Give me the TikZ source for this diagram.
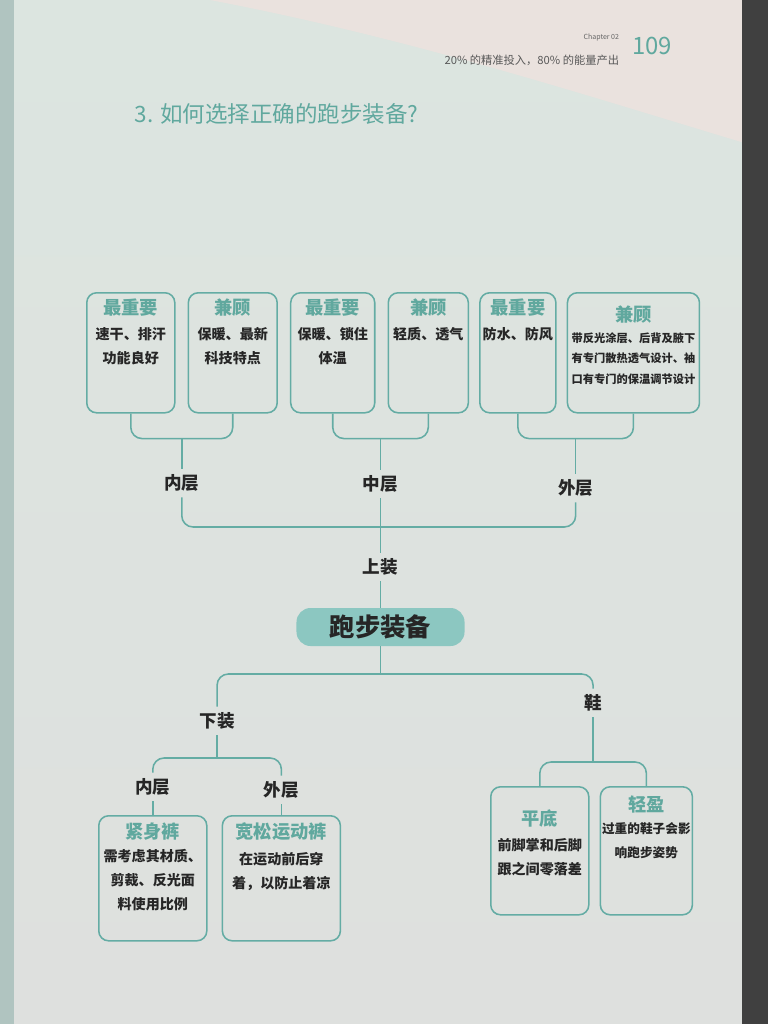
\documentclass[tikz,border=0pt]{standalone}
\usepackage{fontspec}
\setmainfont{Noto Sans CJK SC}
\usetikzlibrary{positioning,calc}
\definecolor{pagetop}{RGB}{220,229,224}
\definecolor{pagebot}{RGB}{222,224,222}
\definecolor{topband}{RGB}{234,226,222}
\definecolor{pageedge}{RGB}{176,196,192}
\definecolor{tealline}{RGB}{100,172,164}
\definecolor{tealtext}{RGB}{96,168,158}
\definecolor{mainfill}{RGB}{140,199,193}
\tikzset{
  box/.style={draw=tealline, line width=1.1pt, rounded corners=7pt, minimum height=3cm, inner sep=0pt},
  boxhead/.style={font=\fontsize{13}{15}\selectfont\bfseries, text=tealtext, inner sep=1pt},
  boxbody/.style={font=\fontsize{10}{17}\selectfont\bfseries, text=black!85, align=center, inner sep=1pt},
  layer/.style={font=\fontsize{12.5}{14}\selectfont\bfseries, text=black!85, inner sep=4pt},
  link/.style={draw=tealline, line width=1.1pt, rounded corners=8pt}
}
\begin{document}
\begin{tikzpicture}[x=0.025cm, y=-0.025cm]
  % page
  \useasboundingbox (0,0) rectangle (768,1024);
  \shade[top color=pagetop, bottom color=pagebot] (0,0) rectangle (768,1024);
  \fill[topband] (210,0) .. controls (420,40) and (600,100) .. (768,150) -- (768,0) -- cycle;
  \fill[black!75] (742,0) rectangle (768,1024);
  \fill[pageedge] (0,0) rectangle (14,1024);
  \node[anchor=east, font=\fontsize{8}{9}\selectfont, text=black!65] (run) at (624,60) {20\% 的精准投入，80\% 的能量产出};
  \node[anchor=east, font=\fontsize{5}{6}\selectfont, text=black!60] (chap) at (624,38) {Chapter 02};
  \node[font=\fontsize{17}{18}\selectfont, text=tealtext] (page) at (652,46) {109};
  \node[anchor=west, font=\fontsize{16}{18}\selectfont, text=tealtext] (title) at (130,114) {3. 如何选择正确的跑步装备?};

  % upper layer boxes
  \node[box, minimum width=2.2cm, anchor=north west] (b1) at (86,292) {};
  \node[box, minimum width=2.22cm, right=0.3cm of b1] (b2) {};
  \node[box, minimum width=2.1cm, right=0.3cm of b2] (b3) {};
  \node[box, minimum width=2.0cm, right=0.3cm of b3] (b4) {};
  \node[box, minimum width=1.9cm, right=0.25cm of b4] (b5) {};
  \node[box, minimum width=3.3cm, right=0.25cm of b5] (b6) {};
  \node[boxhead, below=0.12cm of b1.north] (b1h) {最重要};
  \node[boxbody, below=0.2cm of b1h] {速干、排汗\\功能良好};
  \node[boxhead, below=0.12cm of b2.north] (b2h) {兼顾};
  \node[boxbody, below=0.2cm of b2h] {保暖、最新\\科技特点};
  \node[boxhead, below=0.12cm of b3.north] (b3h) {最重要};
  \node[boxbody, below=0.2cm of b3h] {保暖、锁住\\体温};
  \node[boxhead, below=0.12cm of b4.north] (b4h) {兼顾};
  \node[boxbody, below=0.2cm of b4h] {轻质、透气};
  \node[boxhead, below=0.12cm of b5.north] (b5h) {最重要};
  \node[boxbody, below=0.2cm of b5h] {防水、防风};
  \node[boxhead, below=0.3cm of b6.north] (b6h) {兼顾};
  \node[boxbody, font=\fontsize{8}{14.5}\selectfont\bfseries, below=0.15cm of b6h] {带反光涂层、后背及腋下\\有专门散热透气设计、袖\\口有专门的保温调节设计};

  % layer labels
  \coordinate (j12) at ($(b1.south)!0.5!(b2.south)+(0,25)$);
  \coordinate (j34) at ($(b3.south)!0.5!(b4.south)+(0,25)$);
  \coordinate (j56) at ($(b5.south)!0.5!(b6.south)+(0,25)$);
  \node[layer] (nei) at (j12 |- 0,483) {内层};
  \node[layer] (zhong) at (j34 |- 0,484) {中层};
  \node[layer] (wai) at (j56 |- 0,488) {外层};
  \draw[link] (b1.south) |- (j12) -| (b2.south);
  \draw[link] (b3.south) |- (j34) -| (b4.south);
  \draw[link] (b5.south) |- (j56) -| (b6.south);
  \draw[link] (j12) -- (nei);
  \draw[link] (j34) -- (zhong);
  \draw[link] (j56) -- (wai);

  % centre
  \coordinate (jtop) at (j34 |- 0,527);
  \node[layer] (shang) at (j34 |- 0,567) {上装};
  \node[fill=mainfill, rounded corners=10pt, minimum width=4.2cm, minimum height=0.95cm, font=\fontsize{18}{20}\selectfont\bfseries, text=black!85] (main) at (j34 |- 0,627) {跑步装备};
  \draw[link] (nei.south) |- (jtop) -| (wai.south);
  \draw[link] (zhong) -- (shang);
  \draw[link] (shang) -- (main);

  % lower boxes
  \node[box, minimum width=2.7cm, minimum height=3.125cm, anchor=north west] (p1) at (98,815) {};
  \node[box, minimum width=2.95cm, minimum height=3.125cm, right=0.35cm of p1] (p2) {};
  \node[box, minimum width=2.45cm, minimum height=3.2cm, anchor=north west] (s1) at (490,786) {};
  \node[box, minimum width=2.3cm, minimum height=3.2cm, right=0.25cm of s1] (s2) {};
  \node[boxhead, below=0.15cm of p1.north] (p1h) {紧身裤};
  \node[boxbody, below=0.15cm of p1h] {需考虑其材质、\\剪裁、反光面\\料使用比例};
  \node[boxhead, below=0.15cm of p2.north] (p2h) {宽松运动裤};
  \node[boxbody, below=0.2cm of p2h] {在运动前后穿\\着，以防止着凉};
  \node[boxhead, below=0.55cm of s1.north] (s1h) {平底};
  \node[boxbody, below=0.2cm of s1h] {前脚掌和后脚\\跟之间零落差};
  \node[boxhead, below=0.2cm of s2.north] (s2h) {轻盈};
  \node[boxbody, font=\fontsize{9}{17}\selectfont\bfseries, below=0.15cm of s2h] {过重的鞋子会影\\响跑步姿势};

  % lower labels
  \coordinate (jxia) at ($(p1.north)!0.5!(p2.north)+(0,-57)$);
  \coordinate (jxie) at ($(s1.north)!0.5!(s2.north)+(0,-24)$);
  \node[layer] (xia) at (jxia |- 0,721) {下装};
  \node[layer] (xie) at (jxie |- 0,703) {鞋};
  \node[layer] (nei2) at (p1.north |- 0,787) {内层};
  \node[layer] (wai2) at (p2.north |- 0,790) {外层};
  \coordinate (jbot) at (main |- 0,674);
  \draw[link] (main) -- (jbot);
  \draw[link] (xia.north) |- (jbot) -| (xie.north);
  \draw[link] (xia) -- (jxia);
  \draw[link] (nei2.north) |- (jxia) -| (wai2.north);
  \draw[link] (nei2) -- (p1);
  \draw[link] (wai2) -- (p2);
  \draw[link] (xie) -- (jxie);
  \draw[link] (s1.north) |- (jxie) -| (s2.north);
\end{tikzpicture}
\end{document}
